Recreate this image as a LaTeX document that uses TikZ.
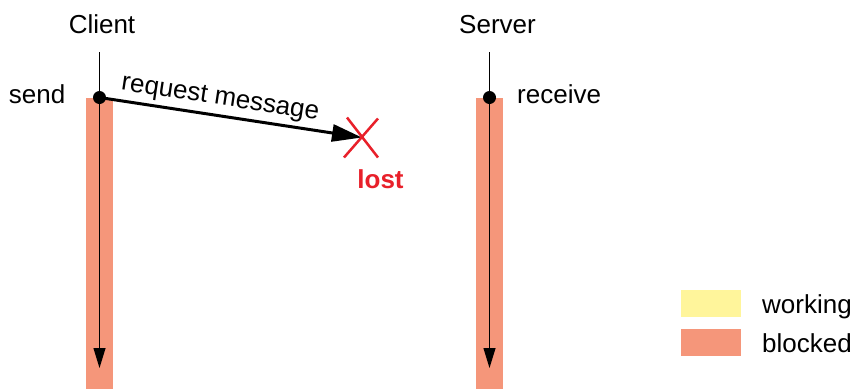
\documentclass[tikz,border=0pt]{standalone}
\usepackage{fontspec}
\setmainfont{Liberation Sans}
\usetikzlibrary{arrows.meta}
\definecolor{blockedfill}{HTML}{F5967A}
\definecolor{workingfill}{HTML}{FFF59B}
\definecolor{lostred}{HTML}{E8202A}
\begin{document}
\begin{tikzpicture}[x=1pt,y=-1pt,
  txt/.style={font=\fontsize{26}{31}\selectfont, inner sep=0pt},
  bar/.style={fill=blockedfill, draw=none},
  lifeline/.style={line width=1.1pt, -{Triangle[length=20pt,width=12pt]}},
  event/.style={circle, fill=black, inner sep=0pt, minimum size=13pt},
  msg/.style={line width=3pt, -{Triangle[length=30pt,width=17pt]}},
  cross/.style={draw=lostred, line width=2.5pt},
  swatch/.style={draw=none, minimum width=60pt, minimum height=27pt, inner sep=0pt}]
\useasboundingbox (0,0) rectangle (855,389);

% activation bars (blocked)
\fill[bar] (86,98) rectangle (113,389);
\fill[bar] (476,98) rectangle (503,389);

% headers
\node[txt, anchor=base] (client) at (102,33) {Client};
\node[txt, anchor=base] (server) at (497.5,33) {Server};

% client lifeline
\coordinate (ctop) at (99.5,52);
\node[event] (send) at (99.5,97.5) {};
\coordinate (cend) at (99.5,368);
\draw[line width=1.1pt] (ctop) -- (send.center);
\draw[lifeline] (send.center) -- (cend);
\node[txt, anchor=base east] (sendlbl) at (65.5,103) {send};

% server lifeline
\coordinate (stop) at (489.5,52);
\node[event] (recv) at (489.5,97.5) {};
\coordinate (send2) at (489.5,368);
\draw[line width=1.1pt] (stop) -- (recv.center);
\draw[lifeline] (recv.center) -- (send2);
\node[txt, anchor=base west] (recvlbl) at (517,103) {receive};

% lost request
\coordinate (lost) at (362,137.5);
\draw[msg] (send.center) -- node[txt, pos=0.45, sloped, above, inner sep=4pt] (reqlbl) {request message} (lost);
\draw[cross] ([shift={(-18,20)}]lost) -- ([shift={(16,-19)}]lost);
\draw[cross] ([shift={(-15,-20)}]lost) -- ([shift={(16,20)}]lost);
\node[txt, anchor=base, text=lostred, font=\fontsize{26}{31}\selectfont\bfseries] (lostlbl) at (380.5,188) {lost};

% legend
\node[swatch, fill=workingfill] (kwork) at (711,303.5) {};
\node[swatch, fill=blockedfill] (kblock) at (711,342.5) {};
\node[txt, anchor=base west] (workinglbl) at (762,313) {working};
\node[txt, anchor=base west] (blockedlbl) at (762,352) {blocked};
\end{tikzpicture}
\end{document}
